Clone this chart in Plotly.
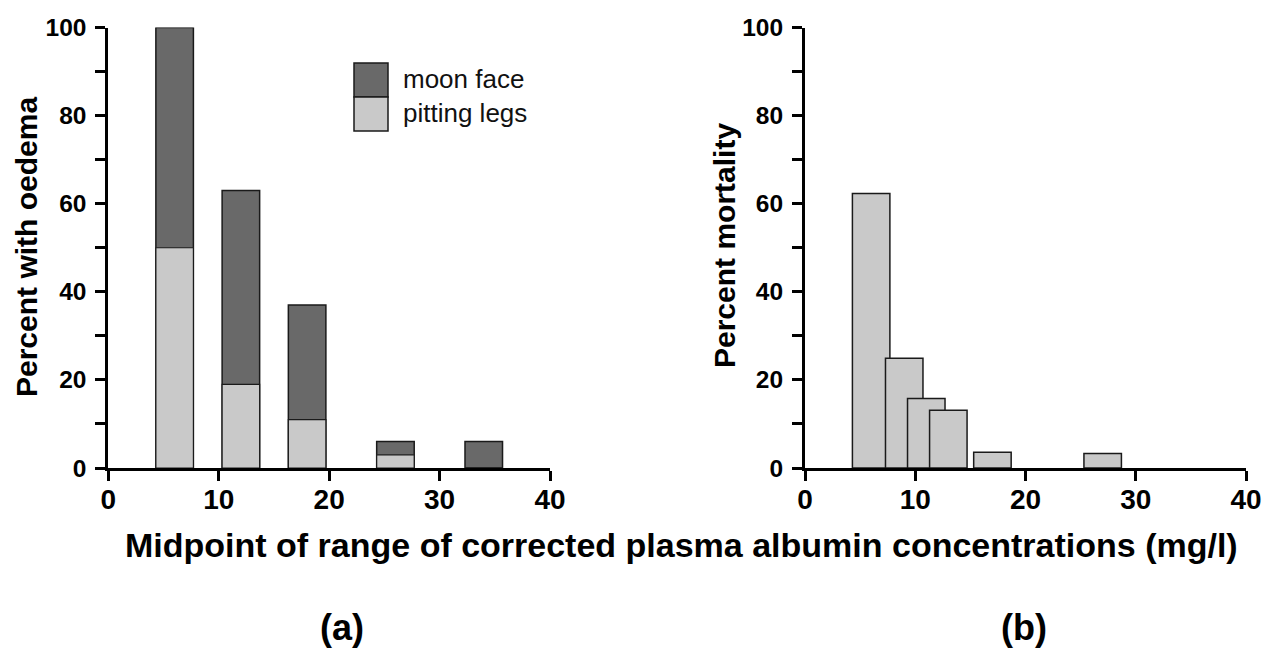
import plotly.graph_objects as go

# ---------------- data ----------------
oedema_mid = [6, 12, 18, 26, 34]
moon_face = [100, 63, 37, 6, 6]        # total percent with oedema (moon face)
pitting_legs = [50, 19, 11, 3, 0]      # percent with pitting legs

mort_mid = [6, 9, 11, 13, 17, 27]
mortality = [62.3, 24.9, 15.8, 13.1, 3.6, 3.3]

x_ticks = [0, 10, 20, 30, 40]
y_ticks = [0, 20, 40, 60, 80, 100]
y_minor = [10, 30, 50, 70, 90]

# ---------------- style ----------------
W, H = 1262, 650
DARK = "#696969"
LIGHT = "#c9c9c9"
EDGE = "#1a1a1a"
FONT = "Liberation Sans, Arial, sans-serif"
BAR_W = 3.4


def px(x):
    return x / W


def py(y):
    return 1 - y / H


fig = go.Figure()

fig.add_trace(go.Bar(x=oedema_mid, y=moon_face, width=BAR_W, name="moon face",
                     marker=dict(color=DARK, line=dict(color=EDGE, width=1.5)),
                     xaxis="x", yaxis="y", showlegend=False))
fig.add_trace(go.Bar(x=oedema_mid, y=pitting_legs, width=BAR_W, name="pitting legs",
                     marker=dict(color=LIGHT, line=dict(color=EDGE, width=1.2)),
                     xaxis="x", yaxis="y", showlegend=False))
fig.add_trace(go.Bar(x=mort_mid, y=mortality, width=BAR_W, name="mortality",
                     marker=dict(color=LIGHT, line=dict(color=EDGE, width=1.5)),
                     xaxis="x2", yaxis="y2", showlegend=False))

ydom = [py(468), py(27.5)]

xaxis_common = dict(range=[0, 40], tickvals=x_ticks, ticks="outside", ticklen=10,
                    tickwidth=3, tickcolor="black", showline=True, linewidth=3,
                    linecolor="black", showgrid=False, zeroline=False,
                    tickfont=dict(family=FONT, size=28, color="black", weight="bold"),
                    ticklabeloverflow="allow", ticklabelstandoff=-6,
                    automargin=False, fixedrange=True)
yaxis_common = dict(range=[0, 100], tickvals=y_ticks, ticks="outside", ticklen=10,
                    tickwidth=3, tickcolor="black", showline=True, linewidth=3,
                    linecolor="black", showgrid=False, zeroline=False,
                    tickfont=dict(family=FONT, size=24.5, color="black", weight="bold"),
                    ticklabeloverflow="allow", ticklabelstandoff=4,
                    minor=dict(tickvals=y_minor, ticks="outside", ticklen=10,
                               tickwidth=3, tickcolor="black", showgrid=False),
                    automargin=False, fixedrange=True, domain=ydom)

fig.update_layout(
    width=W, height=H,
    margin=dict(l=0, r=0, t=0, b=0),
    paper_bgcolor="white", plot_bgcolor="white",
    barmode="overlay",
    showlegend=False,
    xaxis=dict(domain=[px(108.4), px(550)], anchor="y", **xaxis_common),
    yaxis=dict(anchor="x", **yaxis_common),
    xaxis2=dict(domain=[px(805), px(1246)], anchor="y2", **xaxis_common),
    yaxis2=dict(anchor="x2", **yaxis_common),
)

annotations = [
    dict(text="Percent with oedema", x=px(26), y=py(247), textangle=-90,
         font=dict(family=FONT, size=30, color="black", weight="bold")),
    dict(text="Percent mortality", x=px(725), y=py(246), textangle=-90,
         font=dict(family=FONT, size=30, color="black", weight="bold")),
    dict(text="Midpoint of range of corrected plasma albumin concentrations (mg/l)",
         x=px(681), y=py(545),
         font=dict(family=FONT, size=34, color="black", weight="bold")),
    dict(text="(a)", x=px(342), y=py(627),
         font=dict(family=FONT, size=36, color="black", weight="bold")),
    dict(text="(b)", x=px(1024), y=py(627),
         font=dict(family=FONT, size=36, color="black", weight="bold")),
    dict(text="moon face", x=px(401), y=py(79), xanchor="left",
         font=dict(family=FONT, size=26, color="#111111")),
    dict(text="pitting legs", x=px(401), y=py(113), xanchor="left",
         font=dict(family=FONT, size=26, color="#111111")),
]
for a in annotations:
    a.setdefault("xanchor", "center")
    a.update(xref="paper", yref="paper", yanchor="middle", showarrow=False)
fig.update_layout(annotations=annotations)

fig.update_layout(shapes=[
    dict(type="rect", xref="paper", yref="paper", x0=px(354), x1=px(388),
         y0=py(97), y1=py(63), fillcolor=DARK, line=dict(color=EDGE, width=1.5)),
    dict(type="rect", xref="paper", yref="paper", x0=px(354), x1=px(388),
         y0=py(131), y1=py(97), fillcolor=LIGHT, line=dict(color=EDGE, width=1.5)),
])

fig.write_html(
    "out.html",
    config={"displayModeBar": False, "staticPlot": True},
    post_script="document.body.style.margin='0px';document.body.style.overflow='hidden';",
)
